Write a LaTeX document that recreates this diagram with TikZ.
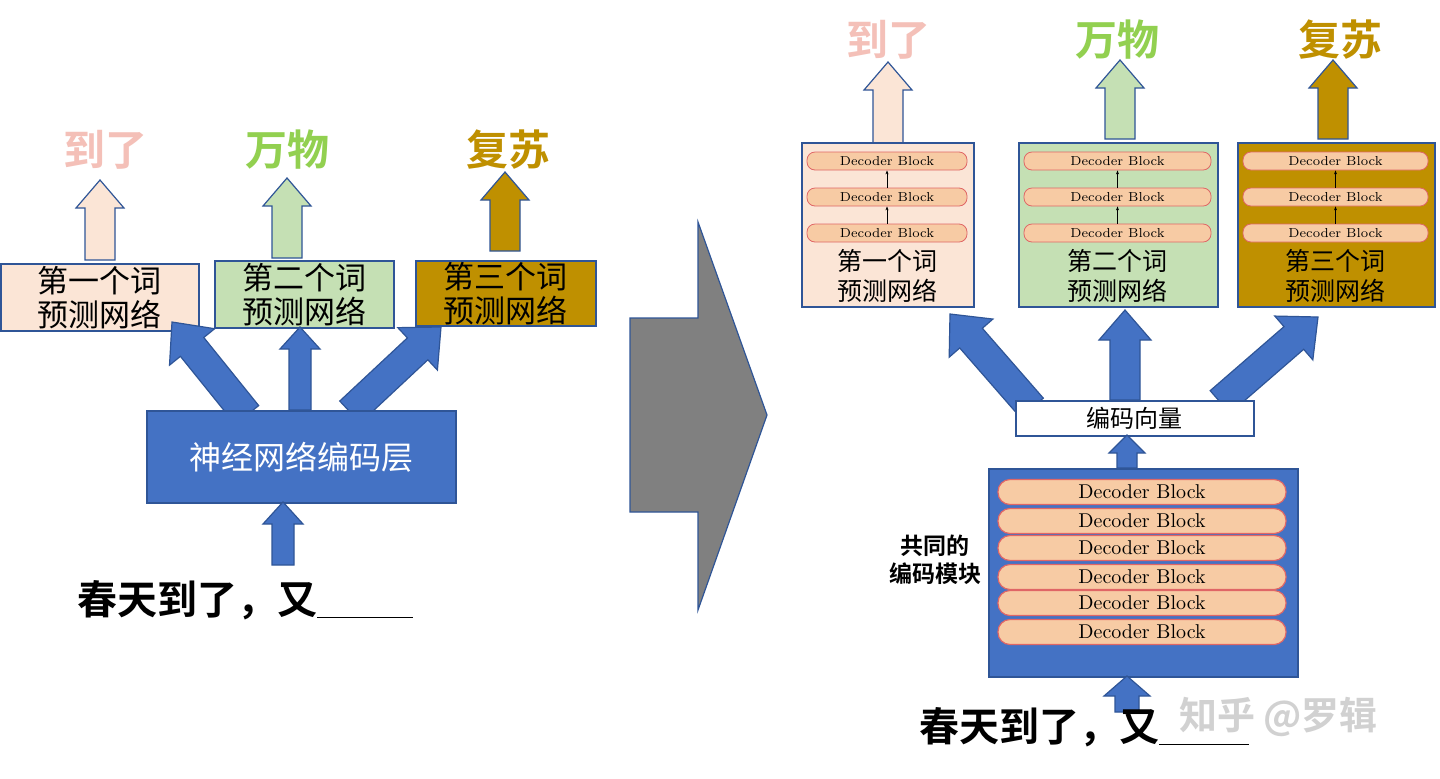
\documentclass[tikz,border=0pt]{standalone}
\usepackage{fontspec}
\newfontfamily\cjk{Noto Sans CJK SC}
\newfontfamily\cjkb{Noto Sans CJK SC Bold}
\definecolor{pinkf}{HTML}{FBE5D6}
\definecolor{greenf}{HTML}{C5E0B4}
\definecolor{goldf}{HTML}{BF9000}
\definecolor{blu}{HTML}{4472C4}
\definecolor{bord}{HTML}{2F5597}
\definecolor{pinkt}{HTML}{F4C0B8}
\definecolor{greent}{HTML}{92D050}
\definecolor{blk}{HTML}{F7CBA4}
\definecolor{blkb}{HTML}{E06666}
\newcommand\barrow[9]{%
 \pgfmathsetmacro\bdx{#3-#1}\pgfmathsetmacro\bdy{#4-#2}%
 \pgfmathsetmacro\blen{veclen(\bdx,\bdy)}%
 \pgfmathsetmacro\bux{\bdx/\blen}\pgfmathsetmacro\buy{\bdy/\blen}%
 \pgfmathsetmacro\bs{#5/2}\pgfmathsetmacro\bh{#6/2}\pgfmathsetmacro\bb{\blen-#7}%
 \filldraw[fill=#8,draw=#9,line width=0.6pt] ({#1-\buy*\bs},{#2+\bux*\bs}) -- ({#1+\bux*\bb-\buy*\bs},{#2+\buy*\bb+\bux*\bs}) -- ({#1+\bux*\bb-\buy*\bh},{#2+\buy*\bb+\bux*\bh}) -- (#3,#4) -- ({#1+\bux*\bb+\buy*\bh},{#2+\buy*\bb-\bux*\bh}) -- ({#1+\bux*\bb+\buy*\bs},{#2+\buy*\bb-\bux*\bs}) -- ({#1+\buy*\bs},{#2-\bux*\bs}) -- cycle;}
\tikzset{
 pbox/.style={draw=bord,line width=0.8pt,anchor=north west,inner sep=0pt},
 boxtxt/.style={font=\cjk\fontsize{15.5}{17}\selectfont,align=center},
 rboxtxt/.style={font=\cjk\fontsize{12.5}{15}\selectfont,align=center},
 outtxt/.style={font=\cjkb\fontsize{21}{24}\selectfont},
 dblk/.style={draw=blkb,fill=blk,rounded corners=4pt,line width=0.4pt,font=\fontsize{6.5}{7}\selectfont,inner sep=0pt},
 dblkL/.style={draw=blkb,fill=blk,rounded corners=6pt,line width=0.6pt,font=\fontsize{10}{10}\selectfont,inner sep=0pt},
 sarr/.style={-{Stealth[length=2pt]},line width=0.3pt},
}
\usetikzlibrary{arrows.meta}
\begin{document}
\begin{tikzpicture}[x=0.5pt,y=-0.5pt]
\useasboundingbox (0,0) rectangle (1440,778);
\fill[white] (0,0) rectangle (1440,778);
% ---------- left ----------
\node[outtxt,text=pinkt] (o1) at (105,150) {到了};
\node[outtxt,text=greent] (o2) at (287,150) {万物};
\node[outtxt,text=goldf] (o3) at (508,150) {复苏};
\barrow{100}{260}{100}{180}{30}{48}{28}{pinkf}{bord}
\barrow{287}{258}{287}{178}{30}{48}{28}{greenf}{bord}
\barrow{505}{251}{505}{172}{30}{48}{28}{goldf}{bord}
\node[pbox,fill=pinkf,minimum width=198*0.5pt,minimum height=67*0.5pt] (b1) at (0,263) {};
\node[boxtxt] at (b1) {第一个词\\预测网络};
\node[pbox,fill=greenf,minimum width=179*0.5pt,minimum height=67*0.5pt] (b2) at (214,260) {};
\node[boxtxt] at (b2) {第二个词\\预测网络};
\node[pbox,fill=goldf,minimum width=180*0.5pt,minimum height=65*0.5pt] (b3) at (415,260) {};
\node[boxtxt] at (b3) {第三个词\\预测网络};
\barrow{247}{415}{172}{322}{30}{58}{32}{blu}{bord}
\barrow{300}{410}{300}{327}{22}{40}{22}{blu}{bord}
\barrow{350}{412}{441}{327}{30}{58}{32}{blu}{bord}
\node[pbox,fill=blu,minimum width=309*0.5pt,minimum height=92*0.5pt] (enc) at (146,410) {};
\node[font=\cjk\fontsize{16}{18}\selectfont,text=white] at (enc) {神经网络编码层};
\barrow{283}{565}{283}{502}{22}{40}{22}{blu}{bord}
\node[font=\cjkb\fontsize{20}{22}\selectfont,anchor=west] (in1) at (70,600) {春天到了，又\rule[-2pt]{48pt}{0.8pt}};
% ---------- big gray arrow ----------
\filldraw[draw=bord,line width=0.6pt,fill=black!50] (630,318) -- (698,318) -- (698,222) -- (767,415) -- (698,610) -- (698,512) -- (630,512) -- cycle;
% ---------- right ----------
\node[outtxt,text=pinkt] (r1) at (888,40) {到了};
\node[outtxt,text=greent] (r2) at (1117,40) {万物};
\node[outtxt,text=goldf] (r3) at (1340,40) {复苏};
\barrow{888}{143}{888}{62}{30}{48}{28}{pinkf}{bord}
\barrow{1120}{139}{1120}{60}{30}{48}{28}{greenf}{bord}
\barrow{1333}{139}{1333}{60}{30}{48}{28}{goldf}{bord}
\foreach \nm/\xa/\xb/\col/\txt in {rb1/801/973/pinkf/第一个词, rb2/1018/1217/greenf/第二个词, rb3/1237/1434/goldf/第三个词}{
  \node[pbox,fill=\col,minimum width=(\xb-\xa)*0.5pt,minimum height=164*0.5pt] (\nm) at (\xa,142) {};
  \pgfmathsetmacro\xm{(\xa+\xb)/2}
  \pgfmathsetmacro\bw{(\xb-\xa-12)*0.5}
  \node[dblk,minimum width=\bw pt,minimum height=9pt] (\nm a) at (\xm,161) {Decoder Block};
  \node[dblk,minimum width=\bw pt,minimum height=9pt] (\nm b) at (\xm,197) {Decoder Block};
  \node[dblk,minimum width=\bw pt,minimum height=9pt] (\nm c) at (\xm,233) {Decoder Block};
  \draw[sarr] (\nm c) -- (\nm b);
  \draw[sarr] (\nm b) -- (\nm a);
  \node[rboxtxt] at (\xm,276) {\txt\\预测网络};
}
\barrow{1032}{408}{950}{314}{30}{58}{32}{blu}{bord}
\barrow{1125}{400}{1125}{310}{30}{52}{30}{blu}{bord}
\barrow{1220}{402}{1318}{317}{30}{58}{32}{blu}{bord}
\node[pbox,fill=white,minimum width=238*0.5pt,minimum height=35*0.5pt] (vec) at (1015,400) {};
\node[font=\cjk\fontsize{12}{14}\selectfont] at (vec) {编码向量};
\barrow{1127}{468}{1127}{435}{20}{36}{18}{blu}{bord}
\node[pbox,fill=blu,minimum width=309*0.5pt,minimum height=208*0.5pt] (renc) at (988,468) {};
\foreach \yy [count=\i] in {492,521,548,577,603,632}{
  \node[dblkL,minimum width=144pt,minimum height=12.5pt] (eb\i) at (1142,\yy) {Decoder Block};
}
\node[font=\cjkb\fontsize{11.5}{14}\selectfont,align=center] (lab) at (935,560) {共同的\\编码模块};
\barrow{1127}{712}{1127}{676}{24}{46}{20}{blu}{bord}
\node[font=\cjkb\fontsize{20}{22}\selectfont,anchor=west] (in2) at (912,727) {春天到了，又\rule[-2pt]{45pt}{0.8pt}};
\node[font=\cjkb\fontsize{19}{21}\selectfont,text=black!18,anchor=west] (wm) at (1172,717) {知乎 @罗辑};
\end{tikzpicture}
\end{document}
